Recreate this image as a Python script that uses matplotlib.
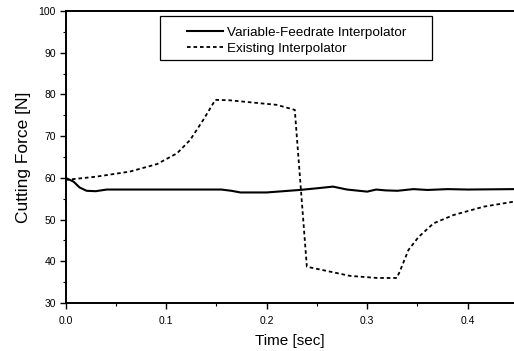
#!/usr/bin/env python3
"""Cutting force vs time: variable-feedrate vs existing interpolator."""

import matplotlib
matplotlib.use('Agg')
import matplotlib.pyplot as plt
from matplotlib.ticker import MultipleLocator
from matplotlib.patches import Rectangle

plt.rcParams['font.family'] = ['Liberation Sans', 'DejaVu Sans']

# Variable-feedrate interpolator (solid)
t_var = [0.0, 0.008, 0.014, 0.021, 0.03, 0.041, 0.08, 0.12, 0.155, 0.165, 0.174,
         0.2, 0.233, 0.25, 0.266, 0.28, 0.3, 0.309, 0.318, 0.33, 0.346, 0.36,
         0.38, 0.4, 0.446]
f_var = [60.0, 59.1, 57.7, 56.9, 56.8, 57.2, 57.2, 57.2, 57.2, 56.9, 56.5,
         56.5, 57.1, 57.5, 57.9, 57.2, 56.7, 57.2, 57.0, 56.9, 57.3, 57.1,
         57.3, 57.2, 57.3]

# Existing interpolator (dashed)
t_ext = [0.0, 0.031, 0.064, 0.091, 0.111, 0.124, 0.137, 0.149, 0.163, 0.21,
         0.228, 0.240, 0.283, 0.31, 0.3295, 0.333, 0.341, 0.351, 0.366, 0.386,
         0.416, 0.446]
f_ext = [59.5, 60.3, 61.5, 63.3, 65.9, 69.1, 73.9, 78.7, 78.6, 77.5,
         76.3, 38.7, 36.5, 36.0, 36.0, 37.9, 42.7, 45.8, 49.1, 51.1,
         53.1, 54.3]

W, H = 514, 351
x0, y0, x1, y1 = 65.5, 303, 514, 11  # axes box in pixels

fig = plt.figure(figsize=(W / 100, H / 100), dpi=100)
ax = fig.add_axes([x0 / W, (H - y0) / H, (x1 - x0) / W, (y0 - y1) / H])

ax.plot(t_var, f_var, color='black', lw=1.5, label='Variable-Feedrate Interpolator')
ax.plot(t_ext, f_ext, color='black', lw=1.3, linestyle=(0, (2, 1.6)),
        label='Existing Interpolator')

ax.set_xlim(0, 0.446)
ax.set_ylim(30, 100)
ax.xaxis.set_major_locator(MultipleLocator(0.1))
ax.xaxis.set_minor_locator(MultipleLocator(0.05))
ax.yaxis.set_major_locator(MultipleLocator(10))
ax.yaxis.set_minor_locator(MultipleLocator(5))
ax.xaxis.set_major_formatter(plt.FuncFormatter(lambda x, _: f'{x:.1f}'))
ax.tick_params(which='major', direction='out', length=4, width=1, labelsize=7.5, pad=3)
ax.tick_params(axis='x', which='major', pad=5)
ax.tick_params(which='minor', direction='out', length=2, width=0.8)
for side in ('left', 'bottom', 'top'):
    ax.spines[side].set_linewidth(1.4)
ax.spines['right'].set_visible(False)

ax.set_xlabel('Time [sec]', fontsize=11, labelpad=6)
ax.set_ylabel('Cutting Force [N]', fontsize=12.5, labelpad=5)

# legend box (wide frame as in the original)
ax_w, ax_h = x1 - x0, y0 - y1
ax.add_patch(Rectangle(((160 - x0) / ax_w, (y0 - 60) / ax_h), (432 - 160) / ax_w,
                       44 / ax_h, transform=ax.transAxes, fill=False,
                       edgecolor='black', lw=0.9, zorder=5))
ax.legend(loc='upper left', bbox_to_anchor=((180 - x0) / ax_w, (y0 - 19.5) / ax_h),
          fontsize=9.7, frameon=False, borderpad=0, handlelength=2.7,
          handletextpad=0.3, labelspacing=0.3)

plt.savefig('out.png', dpi=100)
plt.close()
